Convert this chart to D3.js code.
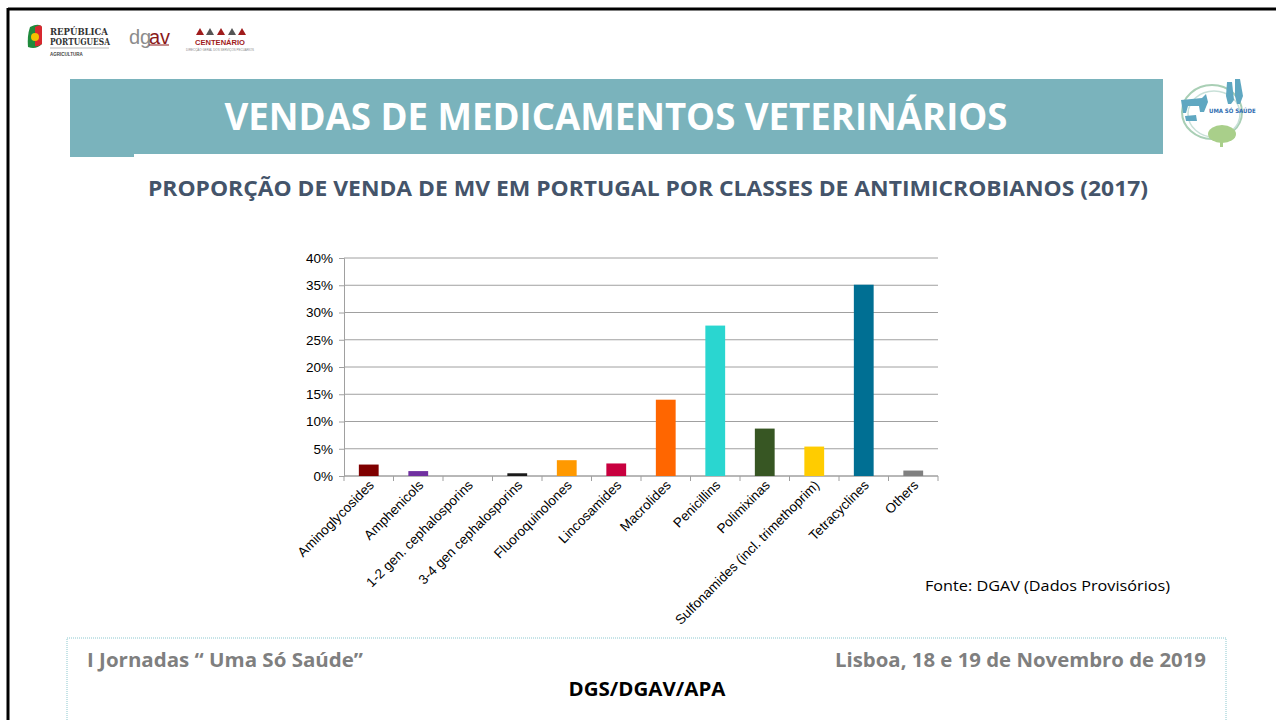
<!DOCTYPE html>
<html>
<head>
<meta charset="utf-8">
<script src="https://cdn.jsdelivr.net/npm/d3@7"></script>
<style>
  body{margin:0;background:#fff;}
  svg{display:block;}
</style>
</head>
<body>
<div id="slide"></div>
<script>
// dados do gráfico
var classes=["Aminoglycosides","Amphenicols","1-2 gen. cephalosporins","3-4 gen cephalosporins","Fluoroquinolones","Lincosamides","Macrolides","Penicillins","Polimixinas","Sulfonamides (incl. trimethoprim)","Tetracyclines","Others"];
var proporcao=[0.021,0.009,0.0,0.005,0.029,0.023,0.140,0.276,0.087,0.054,0.351,0.010];
var cores=["#7f0000","#7030a0","#4f81bd","#1a1a1a","#ff9900","#c8003f","#ff6600","#2ad6d0","#375623","#ffcc00","#006f93","#808080"];
var yTicks=[0,0.05,0.10,0.15,0.20,0.25,0.30,0.35,0.40];

var W=1276,H=720;
var svg=d3.select("#slide").append("svg").attr("width",W).attr("height",H);

svg.append("rect").attr("x",0).attr("y",0).attr("width",W).attr("height",H).attr("fill","#fff");

// moldura preta
svg.append("line").attr("x1",8).attr("y1",9).attr("x2",W).attr("y2",9).attr("stroke","#000").attr("stroke-width",3);
svg.append("line").attr("x1",8).attr("y1",8).attr("x2",8).attr("y2",H).attr("stroke","#000").attr("stroke-width",3);

// logos (aproximados)
var logo=svg.append("g");
logo.append("path").attr("d","M30,27 Q40,22 42,28 L42,44 Q36,50 28,47 Q27,36 30,27Z").attr("fill","#1f8a3c");
logo.append("path").attr("d","M35,27 Q42,23 42,28 L42,44 Q38,47 35,46Z").attr("fill","#d7282f");
logo.append("circle").attr("cx",35).attr("cy",37).attr("r",4).attr("fill","#f2c200");
logo.append("text").attr("x",50).attr("y",35).attr("font-family","DejaVu Serif").attr("font-weight","bold").attr("font-size",8.5).attr("fill","#333").attr("textLength",58).attr("lengthAdjust","spacingAndGlyphs").text("REPÚBLICA");
logo.append("text").attr("x",50).attr("y",45).attr("font-family","DejaVu Serif").attr("font-weight","bold").attr("font-size",8.5).attr("fill","#333").attr("textLength",60).attr("lengthAdjust","spacingAndGlyphs").text("PORTUGUESA");
logo.append("line").attr("x1",50).attr("y1",48).attr("x2",109).attr("y2",48).attr("stroke","#999").attr("stroke-width",0.7);
logo.append("text").attr("x",50).attr("y",56).attr("font-family","Liberation Sans").attr("font-weight","bold").attr("font-size",4.5).attr("fill","#444").text("AGRICULTURA");
logo.append("text").attr("x",129).attr("y",44).attr("font-family","Liberation Sans").attr("font-size",20).attr("fill","#8c8c8c").text("dg");
logo.append("text").attr("x",149).attr("y",44).attr("font-family","Liberation Sans").attr("font-size",20).attr("fill","#8b1a1a").text("av");
logo.append("line").attr("x1",149).attr("y1",45).attr("x2",169).attr("y2",45).attr("stroke","#8b1a1a").attr("stroke-width",1);
var icons=[196,206,217,228,238];
icons.forEach(function(x,i){
  logo.append("path").attr("d","M"+x+",35 L"+(x+4)+",28 L"+(x+8)+",35Z").attr("fill",i%2?"#555":"#a01c1c");
});
logo.append("text").attr("x",195).attr("y",45).attr("font-family","Liberation Sans").attr("font-weight","bold").attr("font-size",7).attr("fill","#a01c1c").attr("textLength",50).attr("lengthAdjust","spacingAndGlyphs").text("CENTENÁRIO");
logo.append("text").attr("x",186).attr("y",51).attr("font-family","Liberation Sans").attr("font-size",3).attr("fill","#888").attr("textLength",68).attr("lengthAdjust","spacingAndGlyphs").text("DIRECÇÃO GERAL DOS SERVIÇOS PECUÁRIOS");

// faixa do título
svg.append("rect").attr("x",70).attr("y",79).attr("width",1093).attr("height",75).attr("fill","#7ab3bc");
svg.append("rect").attr("x",70).attr("y",150).attr("width",64).attr("height",7).attr("fill","#7ab3bc");
svg.append("text").attr("x",616).attr("y",130).attr("text-anchor","middle")
  .attr("font-family","Open Sans").attr("font-weight","bold").attr("font-size",38).attr("fill","#fff")
  .attr("textLength",783).attr("lengthAdjust","spacingAndGlyphs")
  .text("VENDAS DE MEDICAMENTOS VETERINÁRIOS");

// logo Uma Só Saúde
var us=svg.append("g");
us.append("ellipse").attr("cx",1212).attr("cy",112).attr("rx",30).attr("ry",27).attr("fill","none").attr("stroke","#a9cfb5").attr("stroke-width",2);
us.append("ellipse").attr("cx",1214).attr("cy",114).attr("rx",26).attr("ry",23).attr("fill","none").attr("stroke","#c8e0d8").attr("stroke-width",1.5);
us.append("ellipse").attr("cx",1222).attr("cy",134).attr("rx",14).attr("ry",9).attr("fill","#a9cf8a");
us.append("rect").attr("x",1220).attr("y",138).attr("width",3).attr("height",9).attr("fill","#a9cf8a");
us.append("path").attr("d","M1181,100 L1202,98 L1206,94 L1208,102 L1204,112 L1200,112 L1199,106 L1188,106 L1186,113 L1183,113Z").attr("fill","#5fa7c1");
us.append("path").attr("d","M1185,116 L1196,115 L1197,121 L1186,121Z").attr("fill","#5fa7c1");
us.append("path").attr("d","M1227,82 L1232,82 L1234,100 L1231,104 L1228,104 L1226,96Z").attr("fill","#5fa7c1");
us.append("path").attr("d","M1235,79 L1240,79 L1243,96 L1240,104 L1237,104 L1235,96Z").attr("fill","#5fa7c1");
us.append("text").attr("x",1209).attr("y",113).attr("font-family","DejaVu Sans Condensed").attr("font-weight","bold").attr("font-size",6).attr("fill","#2f6db0").text("UMA SÓ SAÚDE");

// subtítulo
svg.append("text").attr("x",648).attr("y",196).attr("text-anchor","middle")
  .attr("font-family","Open Sans").attr("font-weight","bold").attr("font-size",22).attr("fill","#44546a")
  .attr("textLength",1000).attr("lengthAdjust","spacingAndGlyphs")
  .text("PROPORÇÃO DE VENDA DE MV EM PORTUGAL POR CLASSES DE ANTIMICROBIANOS (2017)");

// gráfico de barras
var x0=344,x1=938,yTop=258,yBot=476;
var x=d3.scaleBand().domain(classes).range([x0,x1]).paddingInner(0.6).paddingOuter(0.3);
var y=d3.scaleLinear().domain([0,0.4]).range([yBot,yTop]);
var step=x.step();
var g=svg.append("g");

g.selectAll(".grid").data(yTicks).enter().append("line")
  .attr("x1",x0).attr("x2",x1)
  .attr("y1",function(d){return y(d);}).attr("y2",function(d){return y(d);})
  .attr("stroke","#a0a0a0").attr("stroke-width",1);

var yAxis=g.append("g").attr("transform","translate("+x0+",0)")
  .call(d3.axisLeft(y).tickValues(yTicks).tickFormat(d3.format(".0%")).tickSize(5).tickPadding(6));
yAxis.select(".domain").attr("stroke","#a0a0a0");
yAxis.selectAll(".tick line").attr("stroke","#a0a0a0");
yAxis.selectAll("text").attr("font-family","Liberation Sans").attr("font-size",13.5).attr("fill","#000");

g.append("line").attr("x1",x0).attr("x2",x1).attr("y1",yBot).attr("y2",yBot).attr("stroke","#a0a0a0");
g.selectAll(".xtick").data(d3.range(classes.length+1)).enter().append("line")
  .attr("x1",function(i){return x0+i*step;}).attr("x2",function(i){return x0+i*step;})
  .attr("y1",yBot).attr("y2",yBot+5).attr("stroke","#a0a0a0");

g.selectAll(".bar").data(classes).enter().append("rect")
  .attr("x",function(d){return x(d);})
  .attr("width",x.bandwidth())
  .attr("y",function(d,i){return y(proporcao[i]);})
  .attr("height",function(d,i){return yBot-y(proporcao[i]);})
  .attr("fill",function(d,i){return cores[i];});

g.selectAll(".xlab").data(classes).enter().append("text")
  .attr("transform",function(d){return "translate("+(x(d)+x.bandwidth()/2+6)+","+(yBot+10)+") rotate(-45)";})
  .attr("text-anchor","end")
  .attr("font-family","Liberation Sans").attr("font-size",13.5).attr("fill","#000")
  .text(function(d){return d;});

// fonte
svg.append("text").attr("x",925).attr("y",591)
  .attr("font-family","Open Sans").attr("font-size",15).attr("fill","#000")
  .attr("textLength",245).attr("lengthAdjust","spacingAndGlyphs")
  .text("Fonte: DGAV (Dados Provisórios)");

// rodapé
svg.append("path").attr("d","M67,"+H+" L67,638 L1226,638 L1226,"+H)
  .attr("fill","none").attr("stroke","#8cc8cf").attr("stroke-width",1).attr("stroke-dasharray","1,1");
svg.append("text").attr("x",87).attr("y",667)
  .attr("font-family","Open Sans").attr("font-weight","bold").attr("font-size",19).attr("fill","#7f7f7f")
  .attr("textLength",276).attr("lengthAdjust","spacingAndGlyphs")
  .text("I Jornadas “ Uma Só Saúde”");
svg.append("text").attr("x",1206).attr("y",667).attr("text-anchor","end")
  .attr("font-family","Open Sans").attr("font-weight","bold").attr("font-size",19).attr("fill","#7f7f7f")
  .attr("textLength",371).attr("lengthAdjust","spacingAndGlyphs")
  .text("Lisboa, 18 e 19 de Novembro de 2019");
svg.append("text").attr("x",647).attr("y",696).attr("text-anchor","middle")
  .attr("font-family","Open Sans").attr("font-weight","bold").attr("font-size",19).attr("fill","#000")
  .attr("textLength",157).attr("lengthAdjust","spacingAndGlyphs")
  .text("DGS/DGAV/APA");
</script>
</body>
</html>
